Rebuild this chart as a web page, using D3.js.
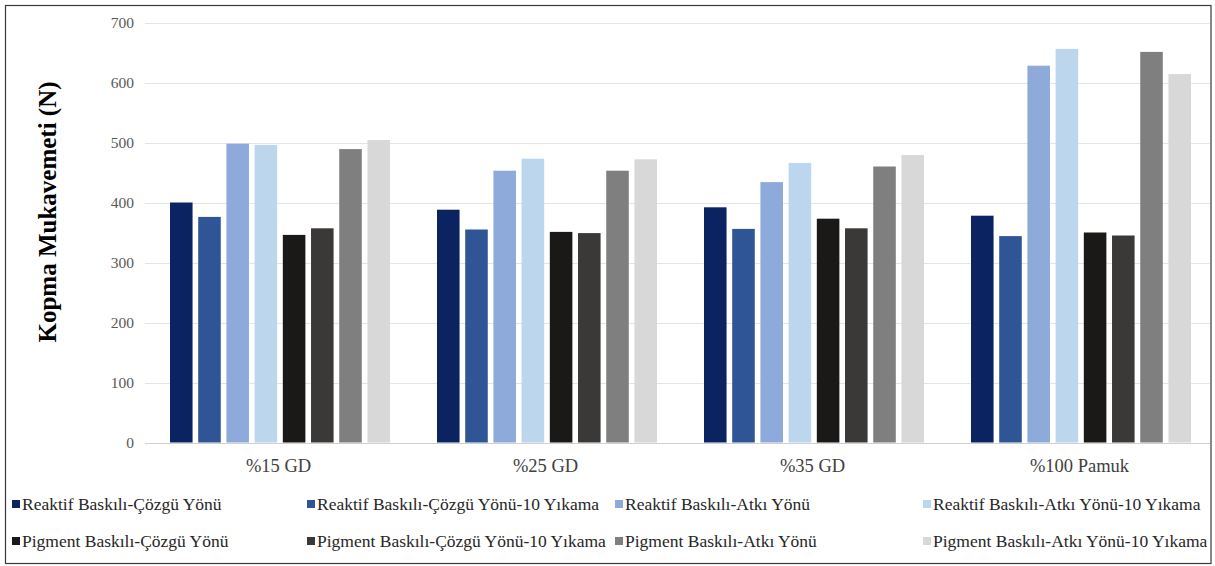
<!DOCTYPE html>
<html>
<head>
<meta charset="utf-8">
<script src="https://cdn.jsdelivr.net/npm/d3@7"></script>
<style>
  html, body { margin: 0; padding: 0; background: #fff; }
  svg { display: block; }
  text { font-family: "Liberation Serif", "Times New Roman", serif; }
</style>
</head>
<body>
<svg id="chart" width="1215" height="566"></svg>
<script>
// Sample groups (x axis)
const categories = ["%15 GD", "%25 GD", "%35 GD", "%100 Pamuk"];

// Series names (legend order)
const seriesNames = [
  "Reaktif Baskılı-Çözgü Yönü",
  "Reaktif Baskılı-Çözgü Yönü-10 Yıkama",
  "Reaktif Baskılı-Atkı Yönü",
  "Reaktif Baskılı-Atkı Yönü-10 Yıkama",
  "Pigment Baskılı-Çözgü Yönü",
  "Pigment Baskılı-Çözgü Yönü-10 Yıkama",
  "Pigment Baskılı-Atkı Yönü",
  "Pigment Baskılı-Atkı Yönü-10 Yıkama"
];

// Breaking strength (N), one array per series, in category order
const reaktifCozgu        = [400, 388, 392, 378];
const reaktifCozgu10      = [376, 355, 356, 344];
const reaktifAtki         = [498, 453, 434, 628];
const reaktifAtki10       = [496, 473, 466, 656];
const pigmentCozgu        = [346, 351, 373, 350];
const pigmentCozgu10      = [357, 349, 357, 345];
const pigmentAtki         = [489, 453, 460, 651];
const pigmentAtki10       = [504, 472, 479, 614];

const seriesValues = [
  reaktifCozgu, reaktifCozgu10, reaktifAtki, reaktifAtki10,
  pigmentCozgu, pigmentCozgu10, pigmentAtki, pigmentAtki10
];

const yTicks = [0, 100, 200, 300, 400, 500, 600, 700];
const yTitle = "Kopma Mukavemeti (N)";

const colors = ["#0b2461", "#2f5597", "#8eaadb", "#bcd6ee",
                "#1b1918", "#3b3838", "#7f7f7f", "#d8d8d8"];

const svg = d3.select("#chart");

// outer frame
svg.append("rect")
  .attr("x", 5.5).attr("y", 5.5)
  .attr("width", 1205.5).attr("height", 558)
  .attr("fill", "none").attr("stroke", "#3a3a3a").attr("stroke-width", 1.2);

const plot = { left: 145, right: 1213, top: 22.5, bottom: 442.5 };

const y = d3.scaleLinear().domain([0, 700]).range([plot.bottom, plot.top]);
const x0 = d3.scaleBand().domain(categories).range([plot.left, plot.right]).padding(0);
const x1 = d3.scaleBand().domain(d3.range(seriesNames.length))
  .range([25, 245]).paddingInner(0.2).paddingOuter(0);

// grid lines
svg.append("g").selectAll("line").data(yTicks).join("line")
  .attr("x1", plot.left).attr("x2", 1210)
  .attr("y1", d => Math.round(y(d)) + 0.5).attr("y2", d => Math.round(y(d)) + 0.5)
  .attr("stroke", d => d === 0 ? "#d0d0d0" : "#e4e4e4").attr("stroke-width", 1);

// y axis labels
const yAxis = d3.axisLeft(y).tickValues(yTicks).tickSize(0).tickPadding(0);
const gy = svg.append("g").attr("transform", "translate(134,0)").call(yAxis);
gy.select(".domain").remove();
gy.selectAll("text")
  .style("font-family", "'Liberation Serif', 'Times New Roman', serif")
  .style("font-size", "15.5px").attr("fill", "#595959");

// bars
const groups = svg.append("g").selectAll("g").data(categories).join("g")
  .attr("transform", d => `translate(${x0(d)},0)`);

groups.selectAll("rect")
  .data((c, ci) => seriesValues.map((vals, si) => ({ si, v: vals[ci] })))
  .join("rect")
  .attr("x", d => x1(d.si))
  .attr("width", x1.bandwidth())
  .attr("y", d => y(d.v))
  .attr("height", d => y(0) - y(d.v))
  .attr("fill", d => colors[d.si]);

// x axis labels
const xAxis = d3.axisBottom(x0).tickSize(0).tickPadding(0);
const gx = svg.append("g").attr("transform", `translate(0,${plot.bottom + 16})`).call(xAxis);
gx.select(".domain").remove();
gx.selectAll("text")
  .style("font-family", "'Liberation Serif', 'Times New Roman', serif")
  .style("font-size", "18.5px").attr("fill", "#404040");

// y axis title
svg.append("text")
  .attr("transform", "translate(56,212) rotate(-90)")
  .attr("text-anchor", "middle")
  .style("font-size", "25px").style("font-weight", "bold")
  .attr("fill", "#000")
  .text(yTitle);

// legend
const legendCols = [12, 307, 615, 923];
const legendRows = [504, 541];
const legend = svg.append("g").selectAll("g").data(seriesNames).join("g")
  .attr("transform", (d, i) => `translate(${legendCols[i % 4]},${legendRows[Math.floor(i / 4)]})`);
legend.append("rect")
  .attr("x", 0).attr("y", -4).attr("width", 8).attr("height", 8)
  .attr("fill", (d, i) => colors[i]);
legend.append("text")
  .attr("x", 10).attr("y", 6)
  .style("font-size", "17.5px").attr("fill", "#262626")
  .text(d => d);
</script>
</body>
</html>
